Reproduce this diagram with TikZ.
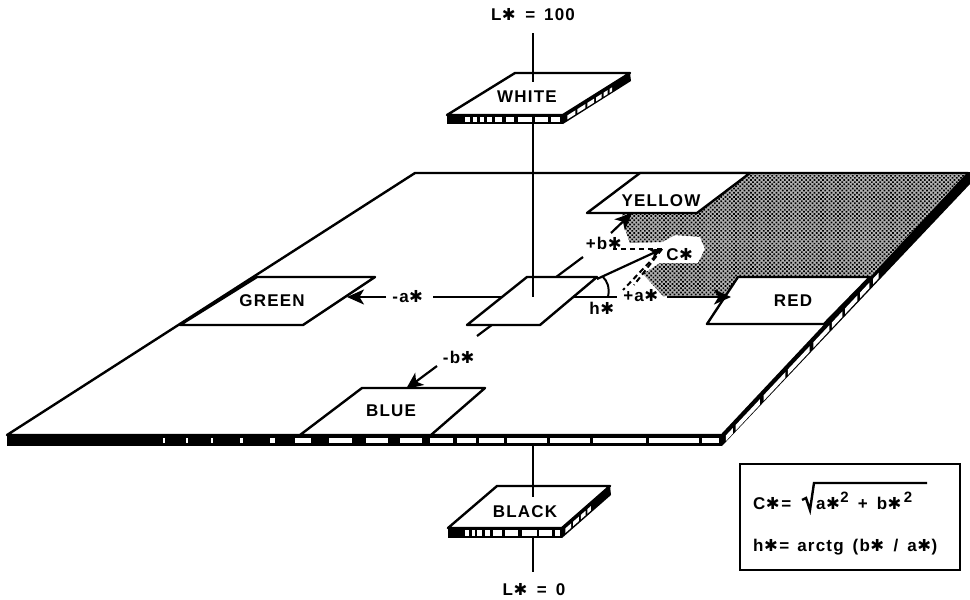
\documentclass[tikz,border=0pt]{standalone}
\usepackage{fontspec}
\setmainfont{Liberation Sans}[LetterSpace=7]
\newfontfamily\djv{DejaVu Sans}
\usetikzlibrary{arrows.meta,calc,patterns.meta}
\newcommand{\astk}{{\djv\fontsize{16.5}{16}\selectfont\kern0.5pt✱\kern0.5pt}}
\newcommand{\sqtwo}{\raisebox{6.5pt}{\fontsize{15}{15}\selectfont 2}}
\tikzset{
  lbl/.style={font=\fontsize{17}{18}\selectfont\bfseries, inner sep=0pt},
  plate/.style={draw=black, fill=white, line width=2.4pt, line join=round},
  axis/.style={line width=2.2pt},
  arr/.style={line width=2.2pt, -{Stealth[length=17pt,width=15pt,inset=4.5pt]}},
  sarr/.style={line width=2.2pt, -{Stealth[length=12pt,width=10pt,inset=3pt]}},
  dsh/.style={line width=2pt, dash pattern=on 5.5pt off 3.5pt},
}
\begin{document}
\begin{tikzpicture}[x=1pt,y=-1pt]
\useasboundingbox (0,0) rectangle (970,600);
% ---------------- main plate -----------------
\coordinate (P1) at (7,435);
\coordinate (P2) at (722,435);
\coordinate (P3) at (968,173);
\coordinate (P4) at (415,173);
\fill (7,435) rectangle (722,446);
\fill (722,435) -- (968,172) -- (970,172) -- (970,184) -- (722,446) -- cycle;
\foreach \a/\b in {163/165,186/188,211/213,240/243,270/275,295/311,329/352,366/388,400/422,430/453,457/476,479/504,507/547,550/590,593/646,649/699,702/719}
  \fill[white] (\a,437.8) rectangle (\b,443.4);
\foreach \s/\e in {.010/.038,.049/.148,.163/.251,.262/.350,.365/.430,.441/.483,.494/.544,.555/.593,.608/.631}
  \fill[white] ($(P2)!\s!(P3)+(1.5,3)$) -- ($(P2)!\e!(P3)+(1.5,3)$) -- ($(P2)!\e!(P3)+(1.5,8.5)$) -- ($(P2)!\s!(P3)+(1.5,8.5)$) -- cycle;
\draw[plate] (P1) -- (P2) -- (P3) -- (P4) -- cycle;
% shading
\fill[black!30]
  (622,214) -- (697,214) -- (750,174) -- (966,174) -- (870,277) -- (738,277) -- (725,296)
  -- (663,296) -- (643,274) -- (660,263) -- (698,263) -- (705,249) -- (700,237) -- (675,235)
  -- (662,242) -- (630,243) -- (626,232) -- cycle;
\fill[pattern={Dots[radius=1.2pt,distance=3pt,angle=45]}]
  (622,214) -- (697,214) -- (750,174) -- (966,174) -- (870,277) -- (738,277) -- (725,296)
  -- (663,296) -- (643,274) -- (660,263) -- (698,263) -- (705,249) -- (700,237) -- (675,235)
  -- (662,242) -- (630,243) -- (626,232) -- cycle;
\fill[black] (966,174) -- (970,174) -- (970,178) -- (880,272) -- (875,272) -- cycle;
% colour plates
\draw[plate] (587,213) -- (697,213) -- (750,173) -- (640,173) -- cycle;
\draw[plate] (180,325) -- (303,325) -- (375,277) -- (257,277) -- cycle;
\draw[plate] (707,324) -- (824,324) -- (870,277) -- (738,277) -- cycle;
\draw[plate] (300,435) -- (431,435) -- (485,388) -- (362,388) -- cycle;
% ---------------- axes -----------------
\coordinate (O) at (533,297);
\coordinate (aL) at (433,297);
\coordinate (aLs) at (386,297);
\coordinate (aLt) at (347,297);
\coordinate (aR) at (617,297);
\coordinate (aRs) at (667,297);
\coordinate (aRt) at (731,297);
\coordinate (bD) at (477,336);
\coordinate (bU) at (583,257);
\coordinate (bDs) at (437,366);
\coordinate (bDt) at (406,389);
\coordinate (bUs) at (611,233);
\coordinate (bUt) at (632,213);
\coordinate (Cs) at (662,249);
\coordinate (Cst) at (597,279);
\draw[axis] (O) -- (aL);
\draw[arr] (aLs) -- (aLt);
\draw[axis] (O) -- (aR);
\draw[arr] (aRs) -- (aRt);
\draw[axis] (bD) -- (bU);
\draw[arr] (bDs) -- (bDt);
\draw[arr] (bUs) -- (bUt);
% centre plate
\draw[plate] (467,325) -- (540,325) -- (597,277) -- (527,277) -- cycle;
\draw[sarr] (Cst) -- (Cs);
\draw[dsh] (Cs) -- (613,249);
\draw[dsh] (Cs) -- (623,290);
\draw[dsh] (Cs) -- (634,285);
\draw[line width=2pt] (608,297) .. controls (610,287) and (607,281) .. (603,277);
% L axis
\coordinate (Wb) at (533,124);
\coordinate (Ltop) at (533,33);
\coordinate (Lwf) at (533,82);
\coordinate (Bt) at (533,446);
\coordinate (Bf) at (533,497);
\coordinate (Bb) at (533,538);
\coordinate (Lbot) at (533,572);
\draw[line width=2.4pt] (Wb) -- (O);
% ---------------- WHITE plate -----------------
\coordinate (W1) at (447,115);
\coordinate (W2) at (563,115);
\coordinate (W3) at (630,73);
\coordinate (W4) at (515,73);
\fill (447,115) rectangle (563,124);
\fill (563,115) -- (630,73) -- (631,81) -- (563,124) -- cycle;
\foreach \a/\b in {465/470,473/477,480/484,487/492,495/502,506/514,518/532,535/548,551/560}
  \fill[white] (\a,117.4) rectangle (\b,121.8);
\foreach \s/\e in {.05/.17,.20/.32,.35/.45,.48/.56,.59/.65,.68/.72}
  \fill[white] ($(W2)!\s!(W3)+(1,2.5)$) -- ($(W2)!\e!(W3)+(1,2.5)$) -- ($(W2)!\e!(W3)+(1,6.5)$) -- ($(W2)!\s!(W3)+(1,6.5)$) -- cycle;
\draw[plate] (W1) -- (W2) -- (W3) -- (W4) -- cycle;
\draw[line width=2.4pt] (Ltop) -- (Lwf);
% ---------------- BLACK plate -----------------
\coordinate (K1) at (448,528);
\coordinate (K2) at (562,528);
\coordinate (K3) at (610,486);
\coordinate (K4) at (497,486);
\fill (448,528) rectangle (562,538);
\fill (562,528) -- (610,486) -- (611,495) -- (562,538) -- cycle;
\foreach \a/\b in {465/469,472/475,477/482,485/490,493/502,505/518,522/537,539/552,555/560}
  \fill[white] (\a,530.4) rectangle (\b,535.6);
\foreach \s/\e in {.05/.17,.21/.33,.37/.47,.51/.58}
  \fill[white] ($(K2)!\s!(K3)+(1,2.5)$) -- ($(K2)!\e!(K3)+(1,2.5)$) -- ($(K2)!\e!(K3)+(1,7)$) -- ($(K2)!\s!(K3)+(1,7)$) -- cycle;
\draw[plate] (K1) -- (K2) -- (K3) -- (K4) -- cycle;
\draw[line width=2.4pt] (Bt) -- (Bf);
\draw[line width=2.4pt] (Bb) -- (Lbot);
% ---------------- labels -----------------
\node[lbl] (tL100) at (533,15) {L\astk\hspace{9pt}=\hspace{9pt}100};
\node[lbl] (tW) at (527,97) {WHITE};
\node[lbl] (tY) at (661,201) {YELLOW};
\node[lbl] (tG) at (272,301) {GREEN};
\node[lbl] (tR) at (793,301) {RED};
\node[lbl] (tB) at (391,411) {BLUE};
\node[lbl] (tK) at (525,512) {BLACK};
\node[lbl] (tL0) at (534,590) {L\astk\hspace{9pt}=\hspace{9pt}0};
\node[lbl] (tma) at (408,297) {-a\astk};
\node[lbl] (tmb) at (459,357) {-b\astk};
\node[lbl] (tpb) at (604,243) {+b\astk};
\node[lbl] (tC) at (680,255) {C\astk};
\node[lbl] (tpa) at (641,296) {+a\astk};
\node[lbl] (th) at (602,308) {h\astk};
% ---------------- formula box -----------------
\node[draw, line width=2.4pt, minimum width=220pt, minimum height=106pt, inner sep=0pt] (box) at (850,517) {};
\node[lbl, anchor=base west] (f1) at (753,509) {C\astk\hspace{1pt}=};
\draw[line width=2.4pt, line join=miter] (802,500) -- (806,498) -- (810,510) -- (814,483) -- (927,483);
\node[lbl, anchor=base west] (f1b) at (816,509) {a\astk\sqtwo\hspace{9pt}+\hspace{9pt}b\astk\hspace{2pt}\sqtwo};
\node[lbl, anchor=base west] (f2) at (753,551) {h\astk\hspace{1pt}=\hspace{8pt}arctg\hspace{9pt}(b\astk\hspace{9pt}/\hspace{9pt}a\astk)};
\end{tikzpicture}
\end{document}
